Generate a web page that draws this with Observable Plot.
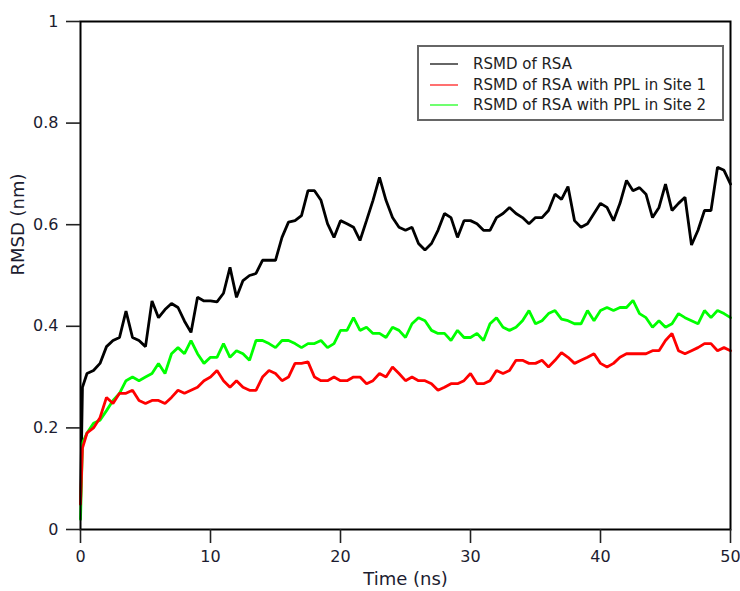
<!DOCTYPE html>
<html>
<head>
<meta charset="utf-8">
<script src="https://cdn.jsdelivr.net/npm/d3@7"></script>
<script src="https://cdn.jsdelivr.net/npm/@observablehq/plot@0.6"></script>
<style>
  html, body { margin: 0; padding: 0; background: #fff; }
  #wrap { position: relative; width: 740px; height: 591px; font-family: "DejaVu Sans", Verdana, sans-serif; }
  #wrap svg { overflow: visible; }
  #legend { position: absolute; left: 417px; top: 45px; width: 303px; height: 72px; border: 2px solid #666; background: #fff; box-sizing: content-box; }
  .row { position: absolute; left: 0; height: 20px; display: flex; align-items: center; font-size: 15px; color: #222; white-space: nowrap; }
  .swatch { display: inline-block; width: 28px; height: 2px; margin-left: 11px; margin-right: 15px; }
</style>
</head>
<body>
<div id="wrap"></div>
<script>
// Time (ns)
const time = [
  0, 0.15, 0.5, 1, 1.5, 2, 2.5, 3, 3.5, 4, 4.5,
  5, 5.5, 6, 6.5, 7, 7.5, 8, 8.5, 9, 9.5,
  10, 10.5, 11, 11.5, 12, 12.5, 13, 13.5, 14, 14.5,
  15, 15.5, 16, 16.5, 17, 17.5, 18, 18.5, 19, 19.5,
  20, 20.5, 21, 21.5, 22, 22.5, 23, 23.5, 24, 24.5,
  25, 25.5, 26, 26.5, 27, 27.5, 28, 28.5, 29, 29.5,
  30, 30.5, 31, 31.5, 32, 32.5, 33, 33.5, 34, 34.5,
  35, 35.5, 36, 36.5, 37, 37.5, 38, 38.5, 39, 39.5,
  40, 40.5, 41, 41.5, 42, 42.5, 43, 43.5, 44, 44.5,
  45, 45.5, 46, 46.5, 47, 47.5, 48, 48.5, 49, 49.5, 50
];
// RMSD of RSA (nm)
const rsa = [
  0.05, 0.28, 0.307, 0.313, 0.327, 0.36, 0.372, 0.378, 0.43, 0.378, 0.372,
  0.36, 0.45, 0.417, 0.433, 0.445, 0.437, 0.41, 0.388, 0.457, 0.45,
  0.45, 0.448, 0.465, 0.516, 0.457, 0.49, 0.5, 0.504, 0.53, 0.53,
  0.53, 0.575, 0.605, 0.608, 0.618, 0.667, 0.667, 0.648, 0.602, 0.575,
  0.608, 0.602, 0.595, 0.569, 0.608, 0.648, 0.693, 0.648, 0.614, 0.595,
  0.589, 0.595, 0.563, 0.55, 0.563, 0.589, 0.622, 0.614, 0.575, 0.608,
  0.608, 0.602, 0.589, 0.589, 0.614, 0.622, 0.634, 0.622, 0.614, 0.602,
  0.614, 0.614, 0.628, 0.66, 0.65, 0.675, 0.608, 0.595, 0.602, 0.622,
  0.642, 0.634, 0.608, 0.642, 0.687, 0.667, 0.673, 0.66, 0.614, 0.634,
  0.68, 0.628, 0.642, 0.654, 0.56, 0.589, 0.628, 0.628, 0.713, 0.707, 0.68
];
// RMSD of RSA with PPL in Site 1 (nm)
const site1 = [
  0.05, 0.16, 0.19, 0.2, 0.22, 0.26, 0.248, 0.268, 0.268, 0.274, 0.254,
  0.248, 0.254, 0.254, 0.248, 0.26, 0.274, 0.268, 0.274, 0.28, 0.293,
  0.3, 0.313, 0.293, 0.28, 0.293, 0.28, 0.274, 0.274, 0.3, 0.313,
  0.307, 0.293, 0.3, 0.327, 0.327, 0.33, 0.3, 0.293, 0.293, 0.3,
  0.293, 0.293, 0.3, 0.3, 0.287, 0.293, 0.307, 0.3, 0.32, 0.307,
  0.293, 0.3, 0.293, 0.293, 0.287, 0.274, 0.28, 0.287, 0.287, 0.293,
  0.307, 0.287, 0.287, 0.293, 0.313, 0.307, 0.313, 0.333, 0.333, 0.327,
  0.327, 0.333, 0.32, 0.333, 0.348, 0.339, 0.327, 0.333, 0.339, 0.346,
  0.327, 0.32, 0.327, 0.339, 0.346, 0.346, 0.346, 0.346, 0.352, 0.352,
  0.372, 0.386, 0.352, 0.346, 0.352, 0.358, 0.366, 0.366, 0.352, 0.358, 0.352
];
// RMSD of RSA with PPL in Site 2 (nm)
const site2 = [
  0.02, 0.17, 0.19, 0.209, 0.215, 0.234, 0.254, 0.268, 0.293, 0.3, 0.293,
  0.3, 0.307, 0.327, 0.307, 0.346, 0.358, 0.346, 0.372, 0.346, 0.327,
  0.339, 0.339, 0.366, 0.339, 0.352, 0.346, 0.333, 0.372, 0.372, 0.366,
  0.358, 0.372, 0.372, 0.366, 0.358, 0.366, 0.366, 0.372, 0.358, 0.366,
  0.392, 0.392, 0.417, 0.392, 0.398, 0.386, 0.386, 0.378, 0.398, 0.392,
  0.378, 0.405, 0.417, 0.411, 0.392, 0.386, 0.386, 0.372, 0.392, 0.378,
  0.378, 0.386, 0.372, 0.405, 0.417, 0.398, 0.392, 0.398, 0.411, 0.431,
  0.405, 0.411, 0.425, 0.431, 0.414, 0.411, 0.405, 0.405, 0.431, 0.411,
  0.431, 0.437, 0.431, 0.437, 0.437, 0.451, 0.425, 0.417, 0.398, 0.411,
  0.398, 0.405, 0.425, 0.417, 0.411, 0.405, 0.431, 0.417, 0.431, 0.425, 0.417
];
const seriesNames = ["RSMD of RSA", "RSMD of RSA with PPL in Site 1", "RSMD of RSA with PPL in Site 2"];
const seriesColors = ["#000000", "#ff0000", "#00ff00"];
const legendColors = ["#666666", "#ff7070", "#70ff70"];
const xTicks = [0, 10, 20, 30, 40, 50];
const yTicks = [0, 0.2, 0.4, 0.6, 0.8, 1];
const yTickLabels = ["0", "0.2", "0.4", "0.6", "0.8", "1"];
const xTitle = "Time (ns)";
const yTitle = "RMSD (nm)";

const allSeries = [rsa, site1, site2];
const rows = [];
allSeries.forEach((vals, s) => {
  vals.forEach((v, i) => rows.push({t: time[i], v, s: seriesNames[s]}));
});
const drawOrder = [0, 2, 1];

const chart = Plot.plot({
  width: 740,
  height: 591,
  marginLeft: 80,
  marginRight: 10,
  marginTop: 21,
  marginBottom: 62,
  style: {fontFamily: "'DejaVu Sans', Verdana, sans-serif", fontSize: "16px", color: "#1c1c30", background: "#fff", overflow: "visible"},
  x: {domain: [0, 50]},
  y: {domain: [0, 1]},
  marks: [
    ...drawOrder.map(s => Plot.line(rows.filter(d => d.s === seriesNames[s]), {
      x: "t", y: "v", stroke: seriesColors[s], strokeWidth: 2.8, strokeLinejoin: "miter"
    })),
    Plot.frame({stroke: "#000", strokeWidth: 2}),
    Plot.axisX({ticks: xTicks, tickSize: 14, tickPadding: 7, label: null, stroke: "#222", strokeWidth: 1.6}),
    Plot.axisY({ticks: yTicks, tickSize: 14, tickPadding: 8, label: null, tickFormat: (d) => yTickLabels[yTicks.indexOf(d)], stroke: "#222", strokeWidth: 1.6}),
    Plot.text([xTitle], {frameAnchor: "bottom", dy: 55, fontSize: 18, text: d => d, fill: "#1c1c30"}),
    Plot.text([yTitle], {frameAnchor: "left", dx: -62, rotate: -90, fontSize: 18, text: d => d, fill: "#1c1c30"})
  ]
});

const wrap = document.getElementById("wrap");
wrap.appendChild(chart);

const legend = document.createElement("div");
legend.id = "legend";
seriesNames.forEach((name, i) => {
  const row = document.createElement("div");
  row.className = "row";
  row.style.top = (7 + i * 20.5) + "px";
  const sw = document.createElement("span");
  sw.className = "swatch";
  sw.style.background = legendColors[i];
  const label = document.createElement("span");
  label.textContent = name;
  row.appendChild(sw);
  row.appendChild(label);
  legend.appendChild(row);
});
wrap.appendChild(legend);
</script>
</body>
</html>
